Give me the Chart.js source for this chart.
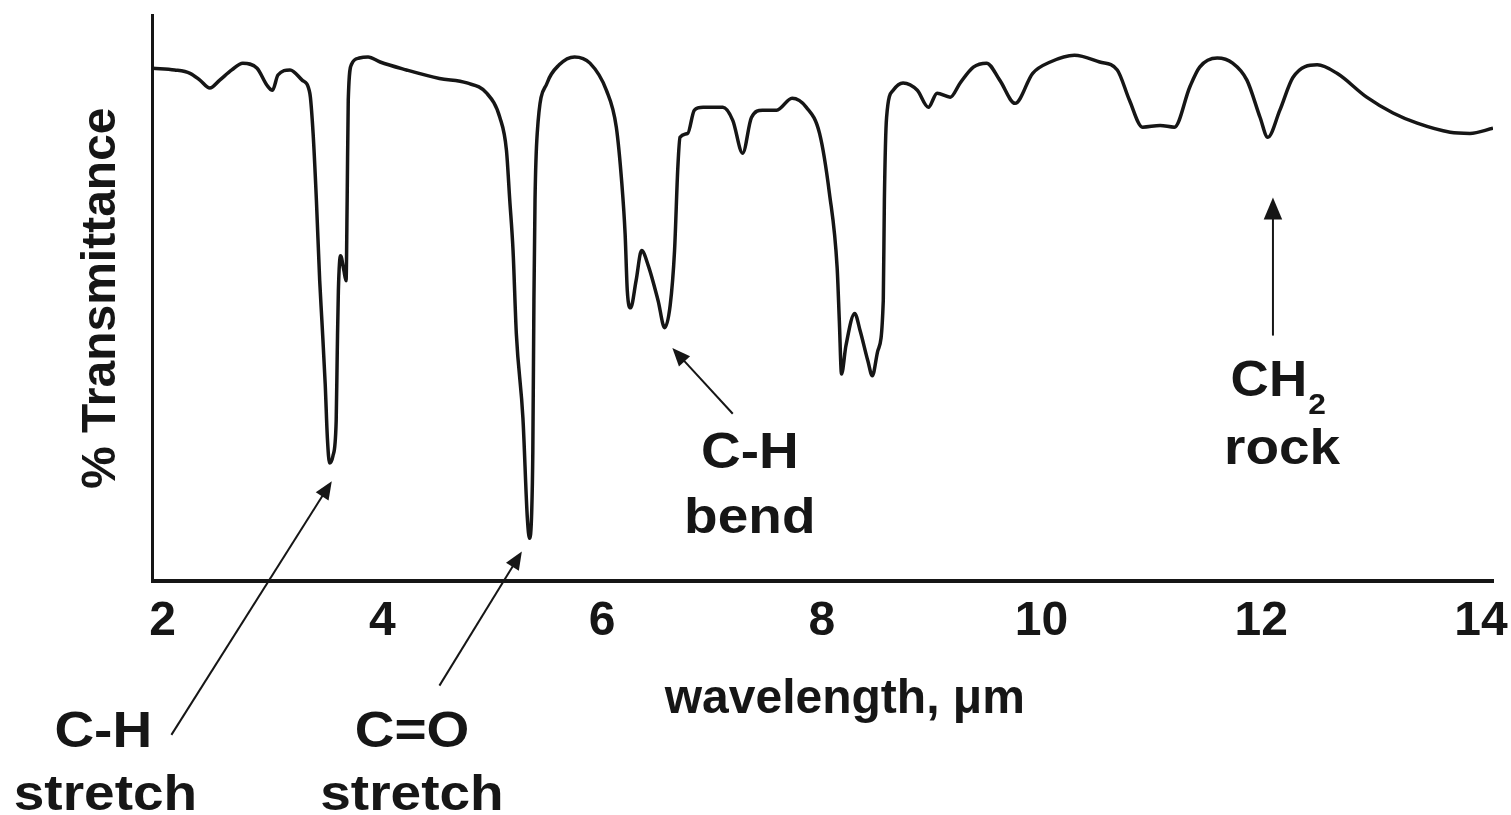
<!DOCTYPE html>
<html>
<head>
<meta charset="utf-8">
<title>IR spectrum</title>
<script src="https://cdn.jsdelivr.net/npm/chart.js@4.4.1/dist/chart.umd.min.js"></script>
<style>
    html, body { margin: 0; padding: 0; background: #fff; }
    #wrap { width: 1511px; height: 815px; position: relative; }
</style>
</head>
<body>
<div id="wrap"><canvas id="spectrum"></canvas></div>
<script>
// wavelength in micrometres
const wavelength = [
    1.91, 2.11, 2.25, 2.34, 2.43, 2.52, 2.63, 2.73, 2.86, 2.95,
    3.00, 3.05, 3.16, 3.27, 3.34, 3.37, 3.40, 3.43, 3.45, 3.48,
    3.50, 3.52, 3.55, 3.58, 3.59, 3.60, 3.62, 3.65, 3.67, 3.68,
    3.69, 3.72, 3.79, 3.87, 3.98, 4.22, 4.52, 4.77, 4.95, 5.07,
    5.13, 5.16, 5.19, 5.22, 5.28, 5.32, 5.34, 5.36, 5.37, 5.38,
    5.39, 5.41, 5.50, 5.61, 5.75, 5.89, 6.04, 6.13, 6.18, 6.21,
    6.23, 6.26, 6.31, 6.36, 6.42, 6.51, 6.57, 6.62, 6.66, 6.69,
    6.71, 6.78, 6.84, 6.92, 7.10, 7.19, 7.28, 7.36, 7.46, 7.59,
    7.73, 7.86, 7.98, 8.07, 8.14, 8.16, 8.18, 8.22, 8.30, 8.35,
    8.42, 8.46, 8.51, 8.56, 8.57, 8.59, 8.65, 8.74, 8.87, 8.97,
    9.05, 9.17, 9.26, 9.38, 9.50, 9.62, 9.76, 9.92, 10.08, 10.30,
    10.53, 10.69, 10.80, 10.92, 11.08, 11.21, 11.35, 11.44, 11.60, 11.74,
    11.87, 11.99, 12.06, 12.17, 12.29, 12.51, 12.69, 12.96, 13.20, 13.42,
    13.72, 13.90, 14.11
];

// % transmittance at each wavelength
const transmittance = [
    90.6, 90.3, 89.7, 88.5, 87.1, 88.5, 90.3, 91.5, 90.6, 87.6,
    86.7, 89.4, 90.3, 88.5, 86.2, 79.1, 67.3, 53.1, 46.0, 34.9,
    25.3, 20.9, 22.1, 28.3, 40.7, 51.3, 57.5, 54.9, 53.1, 67.3,
    85.0, 91.3, 92.4, 92.6, 91.7, 90.3, 88.8, 88.0, 86.2, 81.9,
    76.1, 67.3, 58.4, 43.7, 28.8, 11.2, 7.6, 12.4, 23.0, 49.6,
    67.3, 79.1, 88.0, 91.2, 92.6, 91.5, 86.7, 80.2, 70.3, 61.4,
    51.3, 48.3, 53.1, 58.4, 55.8, 49.6, 44.8, 48.7, 58.4, 73.1,
    78.4, 79.1, 83.2, 83.7, 83.7, 81.4, 75.6, 81.9, 83.2, 83.2,
    85.3, 83.7, 79.1, 68.5, 55.4, 46.0, 36.6, 41.6, 47.3, 44.2,
    38.9, 36.3, 40.7, 49.6, 67.3, 81.9, 86.7, 88.0, 86.7, 83.7,
    86.2, 85.5, 88.0, 90.8, 91.5, 88.5, 84.4, 89.7, 91.7, 92.9,
    91.7, 90.3, 85.0, 80.2, 80.5, 80.2, 87.3, 90.8, 92.4, 91.5,
    88.5, 81.9, 78.4, 83.2, 89.0, 91.2, 89.7, 85.5, 82.7, 80.9,
    79.3, 79.1, 80.0
];

const xTicks = [2, 4, 6, 8, 10, 12, 14];

// arrows: tail -> head, in axis units
const arrows = [
    { from: [2.08, -27.1], to: [3.54, 17.7], head: 18 },
    { from: [4.52, -18.4], to: [5.27, 5.3], head: 18 },
    { from: [7.19, 29.6], to: [6.64, 41.2], head: 18 },
    { from: [12.107, 43.4], to: [12.107, 67.8], head: 22 }
];

// band labels, anchored by centre x and baseline y in axis units
const labels = [
    { text: "C-H", x: 1.46, y: -29.2 },
    { text: "stretch", x: 1.48, y: -40.35 },
    { text: "C=O", x: 4.27, y: -29.2 },
    { text: "stretch", x: 4.27, y: -40.35 },
    { text: "C-H", x: 7.345, y: 20.0 },
    { text: "bend", x: 7.345, y: 8.5 },
    { text: "CH", x: 12.07, y: 32.7, sub: "2" },
    { text: "rock", x: 12.19, y: 20.7 }
];

const xTitle = { text: "wavelength, μm", x: 8.21, y: -23.2 };

const FONT = "'Liberation Sans', Arial, sans-serif";
const INK = "#161616";

function drawWide(ctx, text, cx, cy, size, stretch) {
    ctx.save();
    ctx.font = "bold " + size + "px " + FONT;
    ctx.textAlign = "center";
    ctx.translate(cx, cy);
    ctx.scale(stretch, 1);
    ctx.fillText(text, 0, 0);
    ctx.restore();
}

const annotationPlugin = {
    id: "bandNotes",
    afterDraw(chart) {
        const { ctx, scales: { x, y } } = chart;
        ctx.save();
        ctx.strokeStyle = INK;
        ctx.fillStyle = INK;
        ctx.lineWidth = 2;

        arrows.forEach((a) => {
            const x0 = x.getPixelForValue(a.from[0]);
            const y0 = y.getPixelForValue(a.from[1]);
            const x1 = x.getPixelForValue(a.to[0]);
            const y1 = y.getPixelForValue(a.to[1]);
            const ang = Math.atan2(y1 - y0, x1 - x0);
            const h = a.head;
            ctx.beginPath();
            ctx.moveTo(x0, y0);
            ctx.lineTo(x1 - Math.cos(ang) * h * 0.8, y1 - Math.sin(ang) * h * 0.8);
            ctx.stroke();
            ctx.beginPath();
            ctx.moveTo(x1, y1);
            ctx.lineTo(x1 - Math.cos(ang) * h + Math.sin(ang) * h * 0.42,
                       y1 - Math.sin(ang) * h - Math.cos(ang) * h * 0.42);
            ctx.lineTo(x1 - Math.cos(ang) * h - Math.sin(ang) * h * 0.42,
                       y1 - Math.sin(ang) * h + Math.cos(ang) * h * 0.42);
            ctx.closePath();
            ctx.fill();
        });

        ctx.textBaseline = "alphabetic";
        labels.forEach((l) => {
            const px = x.getPixelForValue(l.x);
            const py = y.getPixelForValue(l.y);
            if (l.sub) {
                ctx.font = "bold 50px " + FONT;
                const w = ctx.measureText(l.text).width * 1.06;
                drawWide(ctx, l.text, px, py, 50, 1.06);
                drawWide(ctx, l.sub, px + w / 2 + 10, py + 18, 30, 1.06);
            } else {
                drawWide(ctx, l.text, px, py, 50, 1.1);
            }
        });

        drawWide(ctx, xTitle.text, x.getPixelForValue(xTitle.x), y.getPixelForValue(xTitle.y), 48, 1.0);
        ctx.restore();
    }
};

const points = wavelength.map((w, i) => ({ x: w, y: transmittance[i] }));

new Chart(document.getElementById("spectrum").getContext("2d"), {
    type: "line",
    data: {
        datasets: [
            {
                label: "% Transmittance",
                data: points,
                borderColor: INK,
                borderWidth: 3.5,
                pointRadius: 0,
                fill: false,
                cubicInterpolationMode: "monotone"
            }
        ]
    },
    options: {
        responsive: true,
        maintainAspectRatio: false,
        animation: false,
        layout: { padding: { left: 0, top: 15, right: 18, bottom: 152 } },
        plugins: {
            legend: { display: false },
            tooltip: { enabled: false }
        },
        scales: {
            x: {
                type: "linear",
                min: 1.909,
                max: 14.11,
                afterBuildTicks: (scale) => {
                    scale.ticks = xTicks.map((v) => ({ value: v }));
                },
                // the "14" label fits inside the page margin, so do not shrink the plot for it
                afterFit: (scale) => {
                    scale.paddingRight = 0;
                },
                ticks: {
                    color: INK,
                    padding: 12,
                    maxRotation: 0,
                    font: { family: FONT, size: 48, weight: "bold" }
                },
                grid: { display: false, drawTicks: false },
                border: { display: true, color: INK, width: 4 },
                title: { display: false }
            },
            y: {
                min: 0,
                max: 100,
                ticks: { display: false },
                grid: { display: false, drawTicks: false },
                border: { display: true, color: INK, width: 3 },
                title: {
                    display: true,
                    text: "% Transmittance",
                    color: INK,
                    padding: { top: 73, bottom: 22 },
                    font: { family: FONT, size: 48, weight: "bold" }
                }
            }
        }
    },
    plugins: [annotationPlugin]
});
</script>
</body>
</html>
